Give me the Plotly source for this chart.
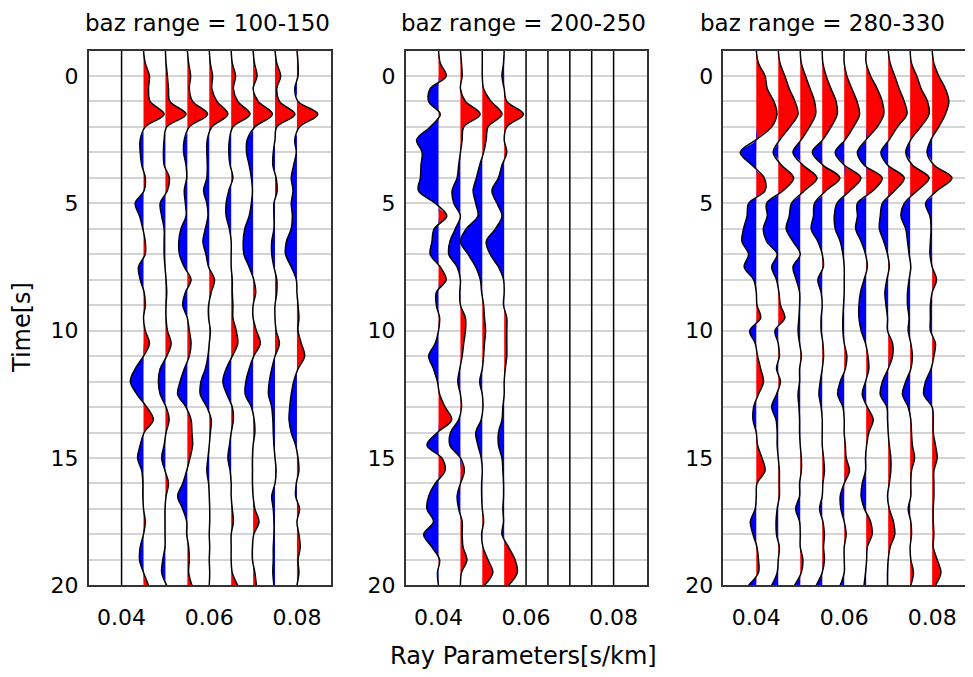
import plotly.graph_objects as go

# sample times [s] of the receiver functions
TIME = [-1.0, -0.5, 0.0, 0.5, 1.0, 1.5, 2.0, 2.5, 3.0, 3.5, 4.0, 4.5, 5.0, 5.5,
        6.0, 6.5, 7.0, 7.5, 8.0, 8.5, 9.0, 9.5, 10.0, 10.5, 11.0, 11.5, 12.0,
        12.5, 13.0, 13.5, 14.0, 14.5, 15.0, 15.5, 16.0, 16.5, 17.0, 17.5, 18.0,
        18.5, 19.0, 19.5, 20.0]
RAY_P = [0.040, 0.045, 0.050, 0.055, 0.060, 0.065, 0.070, 0.075, 0.080]
BAZ_TITLES = ["baz range = 100-150", "baz range = 200-250", "baz range = 280-330"]
X_TICKS = [0.04, 0.06, 0.08]
X_TICKTEXT = ["0.04", "0.06", "0.08"]
Y_TICKS = [0, 5, 10, 15, 20]

# normalised amplitudes, one list per ray parameter
p1_045 = [0, 0.08, 0.27, 0.23, 0.30, 0.94, 0.08, -0.15, -0.15, -0.08, 0.08, 0.03, -0.38, -0.18, -0.03, 0.08, 0.08, -0.23, -0.15, 0.03, 0.08, 0.0,
          0.08, 0.27, 0.0, -0.38, -0.6, -0.3, 0.15, 0.45, 0.03, -0.15, -0.27, -0.08, -0.03, -0.03, 0.0, 0.08, 0.0, -0.15, -0.18, 0.0, 0.23]
p1_050 = [0, 0.03, 0.09, 0.14, 0.2, 0.94, 0.06, -0.06, -0.09, -0.06, 0.18, 0.09, -0.24, -0.17, -0.06, -0.06, -0.06, -0.02, 0.03, 0.06, 0.03, 0.03,
          0.09, 0.26, 0.06, -0.24, -0.32, -0.24, 0.03, 0.17, 0.03, -0.06, -0.17, -0.02, 0.14, 0.03, -0.02, -0.02, -0.02, -0.02, -0.12, -0.17, 0.06]
p1_055 = [0, 0.06, 0.15, 0.09, 0.24, 0.92, 0.09, -0.14, -0.17, -0.06, -0.03, -0.14, -0.09, -0.06, -0.29, -0.39, -0.36, -0.14, 0.17, -0.09, -0.21, 0.0,
          0.09, 0.17, 0.09, -0.14, -0.33, -0.44, -0.06, 0.17, 0.21, 0.24, 0.12, -0.03, -0.21, -0.44, -0.21, -0.03, -0.03, 0.06, 0.09, 0.06, 0.21]
p1_060 = [0, 0.05, 0.15, 0.12, 0.35, 0.85, 0.12, -0.09, -0.11, -0.09, -0.11, -0.26, -0.11, -0.06, -0.18, -0.29, -0.15, -0.03, 0.24, 0.09, -0.03, -0.03,
          0.05, 0.0, -0.06, -0.18, -0.38, -0.41, -0.11, 0.09, 0.05, 0.0, -0.06, -0.11, -0.03, 0.0, 0.02, 0.02, 0.0, 0.02, 0.0, 0.02, 0.0]
p1_065 = [0, 0.05, 0.2, 0.1, 0.3, 0.86, 0.08, -0.08, -0.11, -0.05, 0.08, -0.11, -0.23, -0.23, -0.08, 0.0, 0.0, 0.0, 0.05, 0.05, 0.08, 0.08,
          0.23, 0.3, 0.05, -0.23, -0.38, -0.2, 0.05, 0.1, 0.0, -0.08, -0.15, -0.05, 0.0, 0.0, 0.05, 0.1, 0.0, 0.0, 0.0, 0.05, 0.3]
p1_070 = [0, 0.06, 0.18, 0.0, 0.23, 0.88, 0.08, -0.27, -0.3, -0.18, -0.08, -0.03, -0.08, -0.18, -0.38, -0.45, -0.42, -0.18, 0.03, 0.12, 0.0, 0.0,
          0.15, 0.33, 0.03, -0.18, -0.33, -0.36, -0.08, 0.05, 0.08, 0.0, -0.03, -0.03, -0.03, 0.0, 0.08, 0.27, 0.03, -0.03, -0.03, 0.08, 0.15]
p1_075 = [0, 0.08, 0.26, 0.08, 0.2, 0.91, 0.08, 0.0, -0.08, -0.1, 0.05, 0.1, -0.05, -0.05, -0.05, -0.15, -0.15, -0.05, 0.08, 0.08, 0.0, 0.0,
          0.05, 0.2, 0.0, -0.15, -0.26, -0.3, -0.15, -0.1, -0.08, -0.05, 0.0, 0.05, 0.0, -0.15, -0.08, -0.05, -0.05, -0.08, -0.08, -0.1, -0.05]
p1_080 = [0, 0.05, 0.05, -0.1, 0.05, 0.95, 0.12, -0.1, -0.03, -0.15, -0.26, -0.18, -0.26, -0.21, -0.26, -0.48, -0.52, -0.26, -0.03, 0.0, 0.05, 0.09,
          0.05, 0.2, 0.35, 0.05, -0.15, -0.26, -0.33, -0.36, -0.26, -0.06, 0.05, 0.09, -0.03, -0.06, 0.12, 0.0, 0.09, 0.15, 0.05, 0.09, 0.0]

p2_040 = [0, 0.08, 0.35, -0.38, -0.45, 0.08, -0.38, -1.0, -0.75, -0.8, -0.83, -0.92, -0.15, 0.38, -0.2, -0.3, -0.38, 0.08, 0.35, -0.1, -0.1, 0.05,
          0.0, -0.15, -0.45, -0.23, -0.05, 0.05, 0.3, 0.6, -0.05, -0.53, 0.15, 0.3, -0.15, -0.45, -0.53, -0.23, -0.68, -0.3, 0.05, -0.05, 0.0]
p2_045 = [0, 0.05, 0.08, 0.0, 0.23, 0.9, 0.15, 0.08, 0.0, -0.08, -0.15, -0.38, -0.3, 0.0, -0.23, -0.48, -0.53, -0.15, 0.0, -0.03, 0.0, 0.23,
          0.23, 0.15, 0.08, -0.03, -0.12, 0.0, 0.05, -0.08, -0.45, -0.48, 0.0, 0.18, 0.0, -0.15, -0.08, 0.08, 0.08, 0.12, 0.3, 0.05, 0.0]
p2_050 = [0, 0.0, 0.0, 0.06, 0.4, 0.9, 0.26, 0.18, 0.06, -0.12, -0.27, -0.42, -0.3, -0.2, -0.73, -1.0, -0.65, -0.3, -0.09, -0.03, 0.06, 0.1,
          0.15, 0.1, 0.06, 0.0, -0.12, 0.0, 0.03, -0.05, -0.3, -0.2, -0.05, 0.0, -0.03, -0.03, 0.0, 0.06, -0.03, 0.03, 0.26, 0.48, 0.1]
p2_055 = [0, -0.03, -0.1, 0.0, 0.12, 0.88, 0.12, 0.0, 0.12, -0.1, -0.26, -0.56, -0.33, -0.1, -0.4, -0.82, -0.64, -0.26, -0.03, 0.0, -0.03, 0.12,
          0.12, 0.12, 0.12, 0.05, 0.0, 0.0, -0.06, -0.1, -0.26, -0.26, -0.1, -0.06, -0.03, -0.03, -0.06, -0.03, -0.1, 0.2, 0.5, 0.6, 0.2]

p3_040 = [0, 0.1, 0.4, 0.5, 0.8, 0.94, 0.7, 0.0, -0.73, -0.2, 0.36, 0.4, -0.35, -0.42, -0.58, -0.65, -0.35, -0.55, -0.12, 0.0, 0.03, 0.2,
          -0.3, -0.05, 0.06, 0.2, 0.33, 0.1, -0.12, -0.15, 0.0, 0.06, 0.26, 0.4, 0.03, 0.0, -0.05, -0.27, -0.15, 0.03, 0.1, 0.1, -0.35]
p3_045 = [0, 0.08, 0.3, 0.5, 0.76, 0.9, 0.53, 0.08, -0.23, 0.15, 0.7, 0.23, -0.53, -0.5, -0.68, -0.53, -0.05, -0.3, -0.08, 0.03, 0.1, 0.3,
          -0.15, 0.0, 0.05, -0.08, 0.1, -0.08, -0.3, -0.1, -0.05, -0.05, 0.0, 0.05, 0.05, 0.05, -0.05, -0.1, -0.08, 0.05, 0.0, -0.05, -0.3]
p3_050 = [0, 0.05, 0.24, 0.45, 0.65, 0.7, 0.42, 0.05, -0.33, 0.12, 0.76, 0.2, -0.4, -0.5, -0.64, -0.33, 0.0, -0.33, -0.18, -0.03, -0.03, -0.06,
          -0.1, -0.03, 0.05, -0.03, -0.03, -0.1, -0.06, -0.03, -0.03, 0.0, 0.05, 0.05, -0.03, -0.03, -0.21, -0.03, 0.0, 0.0, 0.12, 0.05, -0.26]
p3_055 = [0, 0.03, 0.18, 0.4, 0.63, 0.68, 0.4, 0.03, -0.45, 0.03, 0.8, 0.18, -0.35, -0.4, -0.5, -0.2, 0.0, 0.05, -0.2, -0.05, 0.0, -0.05,
          -0.05, 0.03, 0.06, 0.0, -0.09, -0.15, -0.05, 0.0, 0.0, 0.0, 0.06, 0.1, 0.03, 0.0, -0.12, 0.03, 0.1, 0.06, 0.1, 0.0, -0.27]
p3_060 = [0, 0.0, 0.12, 0.35, 0.58, 0.7, 0.42, 0.05, -0.41, 0.0, 0.76, 0.27, -0.33, -0.45, -0.41, -0.18, -0.06, 0.0, 0.0, 0.0, -0.03, -0.06,
          -0.06, 0.0, 0.12, 0.05, -0.18, -0.3, -0.06, 0.0, 0.0, 0.05, 0.09, 0.24, 0.0, -0.18, -0.15, 0.0, 0.09, 0.0, 0.0, 0.0, -0.18]
p3_065 = [0, 0.0, 0.2, 0.5, 0.73, 0.8, 0.5, 0.0, -0.4, -0.1, 0.73, 0.32, -0.4, -0.4, -0.48, -0.23, -0.03, 0.05, -0.1, -0.26, -0.33, -0.33,
          -0.23, -0.03, 0.08, 0.12, -0.03, -0.18, 0.05, 0.32, 0.12, 0.02, -0.03, -0.03, -0.18, -0.23, -0.08, 0.2, 0.27, 0.05, 0.02, -0.03, -0.1]
p3_070 = [0, 0.09, 0.3, 0.5, 0.73, 0.85, 0.42, 0.05, -0.33, -0.03, 0.73, 0.3, -0.26, -0.36, -0.4, -0.2, -0.03, 0.05, -0.06, -0.15, -0.1, -0.03,
          -0.03, 0.2, 0.2, 0.0, -0.26, -0.36, -0.06, -0.03, 0.0, 0.05, 0.12, 0.12, 0.05, -0.03, 0.05, 0.24, 0.3, 0.09, 0.0, -0.03, -0.03]
p3_075 = [0, 0.06, 0.3, 0.5, 0.79, 0.86, 0.48, 0.03, -0.2, 0.1, 0.86, 0.33, -0.27, -0.42, -0.2, -0.12, -0.05, 0.03, -0.05, -0.12, -0.12, -0.05,
          -0.09, 0.03, 0.1, 0.03, -0.2, -0.35, -0.09, 0.03, 0.06, 0.1, 0.2, 0.06, 0.03, 0.03, -0.09, 0.03, 0.06, 0.0, 0.03, 0.15, 0.03]
p3_080 = [0, 0.08, 0.3, 0.6, 0.76, 0.6, 0.3, -0.05, -0.23, 0.08, 0.9, 0.23, -0.3, -0.1, -0.05, -0.08, -0.1, 0.0, 0.2, 0.0, -0.08, -0.08,
          -0.08, 0.15, 0.08, -0.05, -0.3, -0.38, 0.0, 0.05, 0.05, 0.15, 0.23, 0.08, 0.08, 0.08, 0.05, 0.05, 0.08, 0.05, 0.23, 0.4, 0.15]

NO_DATA = [0.0] * len(TIME)   # empty bins are drawn as straight lines

panels = [
    [NO_DATA, p1_045, p1_050, p1_055, p1_060, p1_065, p1_070, p1_075, p1_080],
    [p2_040, p2_045, p2_050, p2_055, NO_DATA, NO_DATA, NO_DATA, NO_DATA, NO_DATA],
    [p3_040, p3_045, p3_050, p3_055, p3_060, p3_065, p3_070, p3_075, p3_080],
]

# the page adds an 8 px body margin, so the figure is 8 px smaller and
# every screen position below is shifted by that margin
PAGE = 8
W, H = 973 - PAGE, 677 - PAGE
WIGGLE = 0.005            # one unit of amplitude = one trace spacing
X_PX = [(88.7, 330.7), (405.7, 647.3), (723.3, 966.0)]
Y_PX = (50.5, 585.3)
TITLE_X = [207, 523, 822]
FONT = "DejaVu Sans"


def px(x):
    return (x - PAGE) / W


def py(y):
    return 1 - (y - PAGE) / H


def lobe(amp, positive):
    # keep one polarity only, with the zero crossings added so fills end on the baseline
    vals, times = [], []
    for i, a in enumerate(amp):
        if i and amp[i - 1] * a < 0:
            a0 = amp[i - 1]
            times.append(TIME[i - 1] + (TIME[i] - TIME[i - 1]) * a0 / (a0 - a))
            vals.append(0.0)
        vals.append(max(a, 0.0) if positive else min(a, 0.0))
        times.append(TIME[i])
    return vals, times


fig = go.Figure()

for k, traces in enumerate(panels):
    xa = "x" if k == 0 else "x%d" % (k + 1)
    ya = "y" if k == 0 else "y%d" % (k + 1)
    for p, amp in zip(RAY_P, traces):
        if any(amp):
            for positive, colour in [(True, "#ff0000"), (False, "#0000ff")]:
                vals, times = lobe(amp, positive)
                fig.add_trace(go.Scatter(x=[p] * len(times), y=times, mode="lines",
                                         line=dict(width=0), xaxis=xa, yaxis=ya,
                                         hoverinfo="skip", showlegend=False))
                fig.add_trace(go.Scatter(x=[p + WIGGLE * v for v in vals], y=times,
                                         mode="lines", fill="tonextx", fillcolor=colour,
                                         line=dict(width=0, shape="spline"),
                                         xaxis=xa, yaxis=ya, hoverinfo="skip",
                                         showlegend=False))
        fig.add_trace(go.Scatter(x=[p + WIGGLE * a for a in amp], y=TIME, mode="lines",
                                 line=dict(color="black", width=1.5, shape="spline"),
                                 xaxis=xa, yaxis=ya, showlegend=False))

layout = dict(width=W, height=H, margin=dict(l=0, r=0, t=0, b=0),
              paper_bgcolor="white", plot_bgcolor="white", showlegend=False,
              font=dict(family=FONT, size=22, color="black"))

annotations = []
for k in range(3):
    sx = "" if k == 0 else str(k + 1)
    x0, x1 = X_PX[k]
    layout["xaxis" + sx] = dict(
        domain=[px(x0), px(x1)], range=[0.0325, 0.0877], anchor="y" + sx,
        tickvals=X_TICKS, ticktext=X_TICKTEXT, ticks="", showgrid=False,
        zeroline=False, showline=True, mirror=True, linecolor="#333333",
        linewidth=1.5, layer="above traces", ticklabelstandoff=12,
        tickfont=dict(family=FONT, size=22, color="black"), automargin=False)
    layout["yaxis" + sx] = dict(
        domain=[py(Y_PX[1]), py(Y_PX[0])], range=[20, -1], anchor="x" + sx,
        tickvals=Y_TICKS, ticks="", showgrid=True, gridcolor="#d4d4d4", gridwidth=1.5,
        minor=dict(dtick=1, showgrid=True, gridcolor="#d4d4d4", gridwidth=1.5),
        zeroline=False, showline=True, mirror=True, linecolor="#333333",
        linewidth=1.5, layer="above traces", ticklabelstandoff=4,
        tickfont=dict(family=FONT, size=22, color="black"), automargin=False)
    annotations.append(dict(text=BAZ_TITLES[k], x=px(TITLE_X[k]), y=1.0,
                            xref="paper", yref="paper", showarrow=False,
                            xanchor="center", yanchor="top",
                            font=dict(family=FONT, size=23, color="black")))

annotations.append(dict(text="Ray Parameters[s/km]", x=px(523), y=py(656),
                        xref="paper", yref="paper", showarrow=False,
                        xanchor="center", yanchor="middle",
                        font=dict(family=FONT, size=24, color="black")))
annotations.append(dict(text="Time[s]", x=px(22), y=py(328), xref="paper",
                        yref="paper", showarrow=False, textangle=-90,
                        xanchor="center", yanchor="middle",
                        font=dict(family=FONT, size=24, color="black")))
layout["annotations"] = annotations

fig.update_layout(**layout)
fig.write_html("out.html")
